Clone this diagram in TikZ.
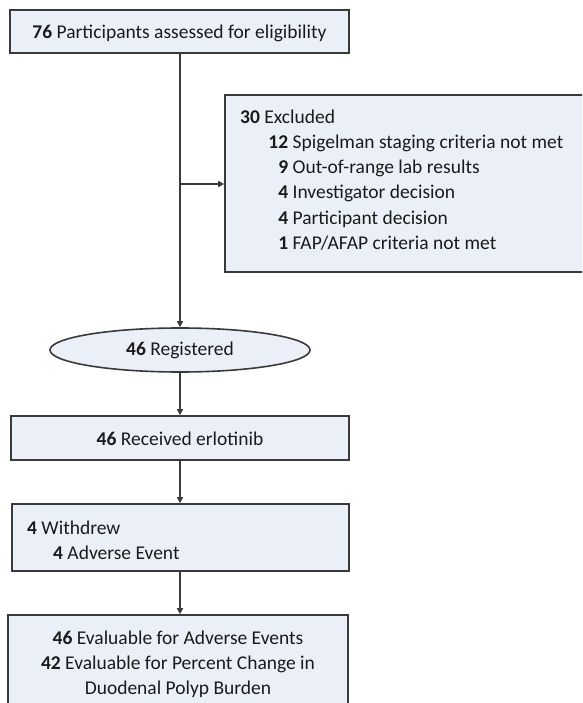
\documentclass[tikz,border=0pt]{standalone}
\usepackage{fontspec}
\setmainfont{Carlito}
\usetikzlibrary{arrows.meta,shapes.geometric}
\definecolor{boxfill}{HTML}{EBF0F8}
\definecolor{edge}{HTML}{3A3A3A}
\definecolor{ink}{HTML}{1A1A1A}
\begin{document}
\begin{tikzpicture}[x=1pt,y=-1pt,
  box/.style={draw=edge,line width=1.6pt,fill=boxfill,inner sep=0pt},
  txt/.style={text=ink,font=\fontsize{19.5}{25}\selectfont,inner sep=0pt},
  conn/.style={draw=edge,line width=1.4pt},
  arr/.style={conn,-{Triangle[length=6pt,width=6pt]}}]
\clip (0,0) rectangle (582,703);
\fill[white] (0,0) rectangle (582,703);
% boxes
\node[box,minimum width=339pt,minimum height=43pt] (assess) at (179.5,31.5) {};
\node[box,minimum width=365pt,minimum height=177pt] (excl) at (407.5,183.5) {};
\node[box,ellipse,minimum width=260pt,minimum height=44pt] (reg) at (180,350) {};
\node[box,minimum width=338pt,minimum height=44pt] (recv) at (180,438) {};
\node[box,minimum width=337pt,minimum height=67pt] (withd) at (180.5,537.5) {};
\node[box,minimum width=340pt,minimum height=105pt] (final) at (178,667.5) {};
% texts
\node[txt,anchor=base] (assesst) at (179.5,38.5) {\textbf{76} Participants assessed for eligibility};
\node[txt,anchor=base west] (ex0) at (240,124) {\textbf{30} Excluded};
\node[txt,anchor=base west] (ex1) at (268,149) {\makebox[20pt][r]{\textbf{12}} Spigelman staging criteria not met};
\node[txt,anchor=base west] (ex2) at (268,174) {\makebox[20pt][r]{\textbf{9}} Out-of-range lab results};
\node[txt,anchor=base west] (ex3) at (268,199) {\makebox[20pt][r]{\textbf{4}} Investigator decision};
\node[txt,anchor=base west] (ex4) at (268,224) {\makebox[20pt][r]{\textbf{4}} Participant decision};
\node[txt,anchor=base west] (ex5) at (268,249) {\makebox[20pt][r]{\textbf{1}} FAP/AFAP criteria not met};
\node[txt,anchor=base] (regt) at (180,355) {\textbf{46} Registered};
\node[txt,anchor=base] (recvt) at (180,445) {\textbf{46} Received erlotinib};
\node[txt,anchor=base west] (wd0) at (27,534) {\textbf{4} Withdrew};
\node[txt,anchor=base west] (wd1) at (53,559) {\textbf{4} Adverse Event};
\node[txt,anchor=base] (fin0) at (178,644) {\textbf{46} Evaluable for Adverse Events};
\node[txt,anchor=base] (fin1) at (178,669) {\textbf{42} Evaluable for Percent Change in};
\node[txt,anchor=base] (fin2) at (178,694) {Duodenal Polyp Burden};
% connectors
\coordinate (branch) at (180,184);
\draw[arr] (reg.north |- assess.south) -- (reg.north);
\draw[arr] (branch) -- (branch -| excl.west);
\draw[arr] (reg.south) -- (reg.south |- recv.north);
\draw[arr] (reg.south |- recv.south) -- (reg.south |- withd.north);
\draw[arr] (reg.south |- withd.south) -- (reg.south |- final.north);
\end{tikzpicture}
\end{document}
